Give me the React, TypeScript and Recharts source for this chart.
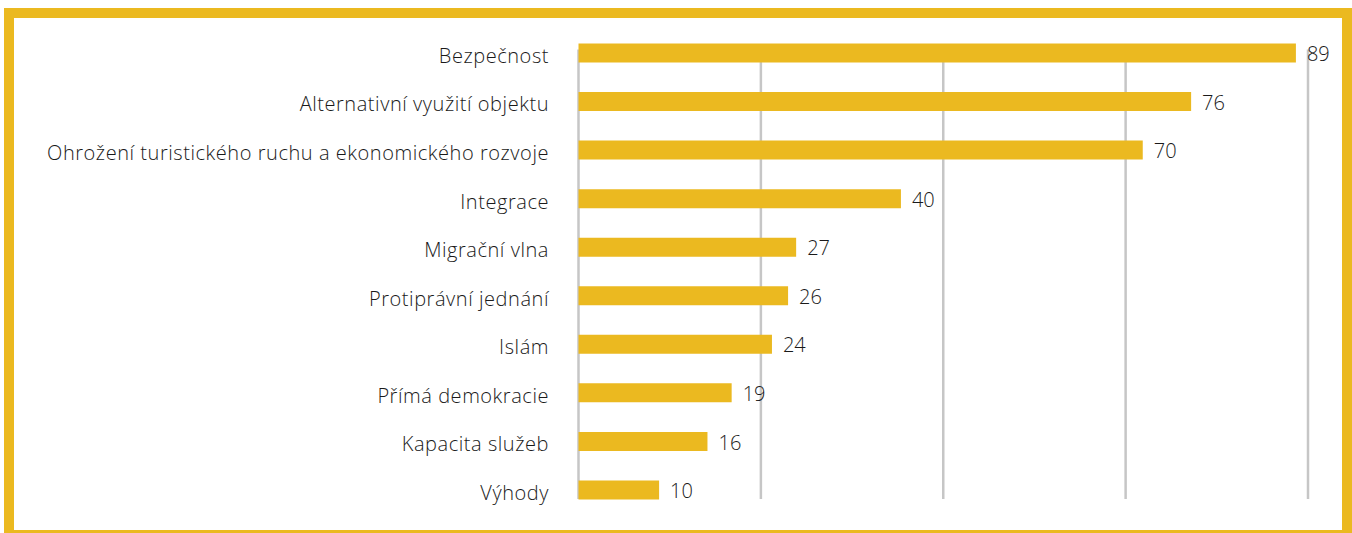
import React from 'react';
import { BarChart, Bar, XAxis, YAxis, CartesianGrid, LabelList } from 'recharts';

const categories = [
  'Bezpečnost',
  'Alternativní využití objektu',
  'Ohrožení turistického ruchu a ekonomického rozvoje',
  'Integrace',
  'Migrační vlna',
  'Protiprávní jednání',
  'Islám',
  'Přímá demokracie',
  'Kapacita služeb',
  'Výhody',
];
const counts = [89, 76, 70, 40, 27, 26, 24, 19, 16, 10];
const gridTicks = [0, 22.625, 45.25, 67.875, 90.5];

const data = categories.map((name, i) => ({ name, value: counts[i] }));

const YELLOW = '#EBB920';
const FONT = '"Open Sans", "Noto Sans", sans-serif';

// gridlines in the original stop short of the plot edges
const GridLine = (props: any) => (
  <line
    x1={props.x1}
    x2={props.x2}
    y1={props.y1 + 21}
    y2={props.y2 - 15}
    stroke="#c6c6c6"
    strokeWidth={2.5}
  />
);

export default function App() {
  return (
    <div style={{ position: 'absolute', left: 0, top: 0, width: 1352, height: 533, overflow: 'hidden', background: '#fff' }}>
      <style>{'body{margin:0}'}</style>
      <div
        style={{
          position: 'absolute',
          left: 4,
          top: 8,
          width: 1348,
          height: 532,
          boxSizing: 'border-box',
          border: `10px solid ${YELLOW}`,
        }}
      />
      <div style={{ position: 'absolute', left: 0, top: 0 }}>
        <BarChart
          width={1352}
          height={533}
          data={data}
          layout="vertical"
          margin={{ top: 28.5, right: 44, bottom: 19, left: 0 }}
          barSize={19}
        >
          <CartesianGrid horizontal={false} vertical={GridLine} verticalValues={gridTicks} />
          <XAxis type="number" domain={[0, 90.5]} ticks={gridTicks} hide />
          <YAxis
            type="category"
            dataKey="name"
            width={578.5}
            axisLine={false}
            tickLine={false}
            tickSize={0}
            tickMargin={29.5}
            interval={0}
            tick={{
              fill: '#1a1a1a',
              fontSize: 20,
              fontFamily: FONT,
              fontWeight: 300,
              letterSpacing: 0.55,
              dy: 3,
            }}
          />
          <Bar dataKey="value" fill={YELLOW} isAnimationActive={false}>
            <LabelList
              dataKey="value"
              position="right"
              offset={11}
              dy={1}
              style={{ fill: '#1a1a1a', fontSize: 20, fontFamily: FONT, fontWeight: 300 }}
            />
          </Bar>
        </BarChart>
      </div>
    </div>
  );
}
